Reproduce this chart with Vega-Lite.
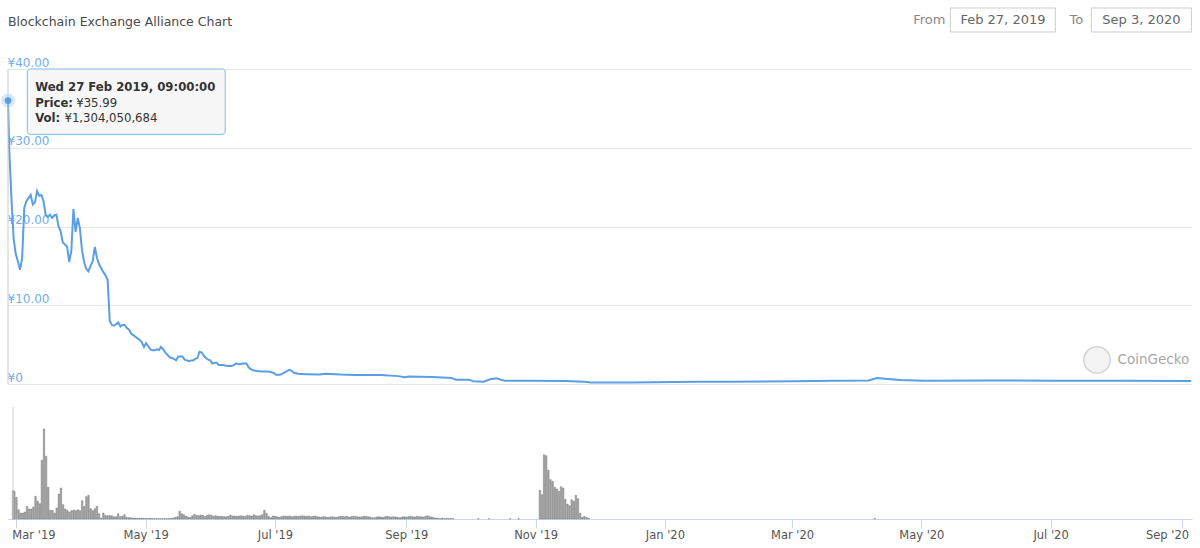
{
  "$schema": "https://vega.github.io/schema/vega-lite/v6.json",
  "padding": {"left": 0, "top": 7, "right": 8, "bottom": 4},
  "background": "white",
  "spacing": 23,
  "bounds": "flush",
  "config": {"font": "DejaVu Sans", "view": {"stroke": null}},
  "datasets": {
    "price": [
      {"date": "2019-02-27T09:00Z", "price": 35.99},
      {"date": "2019-02-28", "price": 29.5},
      {"date": "2019-03-01", "price": 23.5},
      {"date": "2019-03-02", "price": 18.5},
      {"date": "2019-03-03", "price": 16.5},
      {"date": "2019-03-04", "price": 15.6},
      {"date": "2019-03-05", "price": 14.5},
      {"date": "2019-03-06", "price": 16.0},
      {"date": "2019-03-07", "price": 22.4},
      {"date": "2019-03-08", "price": 23.2},
      {"date": "2019-03-09", "price": 23.6},
      {"date": "2019-03-10", "price": 24.0},
      {"date": "2019-03-11", "price": 22.8},
      {"date": "2019-03-12", "price": 23.1},
      {"date": "2019-03-13", "price": 24.5},
      {"date": "2019-03-14", "price": 23.9},
      {"date": "2019-03-15", "price": 24.0},
      {"date": "2019-03-16", "price": 23.2},
      {"date": "2019-03-17", "price": 21.5},
      {"date": "2019-03-18", "price": 21.2},
      {"date": "2019-03-19", "price": 21.5},
      {"date": "2019-03-20", "price": 21.1},
      {"date": "2019-03-21", "price": 21.4},
      {"date": "2019-03-22", "price": 21.5},
      {"date": "2019-03-23", "price": 20.0},
      {"date": "2019-03-24", "price": 19.4},
      {"date": "2019-03-25", "price": 18.0},
      {"date": "2019-03-26", "price": 17.7},
      {"date": "2019-03-27", "price": 17.5},
      {"date": "2019-03-28", "price": 15.5},
      {"date": "2019-03-29", "price": 16.9},
      {"date": "2019-03-30", "price": 22.2},
      {"date": "2019-03-31", "price": 19.3},
      {"date": "2019-04-01", "price": 21.1},
      {"date": "2019-04-02", "price": 19.8},
      {"date": "2019-04-03", "price": 17.0},
      {"date": "2019-04-04", "price": 15.5},
      {"date": "2019-04-05", "price": 14.6},
      {"date": "2019-04-06", "price": 14.3},
      {"date": "2019-04-07", "price": 15.0},
      {"date": "2019-04-08", "price": 15.6},
      {"date": "2019-04-09", "price": 17.4},
      {"date": "2019-04-10", "price": 16.0},
      {"date": "2019-04-11", "price": 15.2},
      {"date": "2019-04-12", "price": 14.7},
      {"date": "2019-04-13", "price": 14.2},
      {"date": "2019-04-14", "price": 13.8},
      {"date": "2019-04-15", "price": 13.2},
      {"date": "2019-04-16", "price": 8.0},
      {"date": "2019-04-17", "price": 7.5},
      {"date": "2019-04-18", "price": 7.4},
      {"date": "2019-04-19", "price": 7.6},
      {"date": "2019-04-20", "price": 7.8},
      {"date": "2019-04-21", "price": 7.3},
      {"date": "2019-04-22", "price": 7.5},
      {"date": "2019-04-23", "price": 7.5},
      {"date": "2019-04-24", "price": 7.1},
      {"date": "2019-04-25", "price": 6.9},
      {"date": "2019-04-26", "price": 6.4},
      {"date": "2019-04-27", "price": 6.2},
      {"date": "2019-04-28", "price": 6.0},
      {"date": "2019-04-29", "price": 5.8},
      {"date": "2019-04-30", "price": 5.6},
      {"date": "2019-05-01", "price": 5.3},
      {"date": "2019-05-02", "price": 4.7},
      {"date": "2019-05-03", "price": 5.2},
      {"date": "2019-05-04", "price": 4.8},
      {"date": "2019-05-05", "price": 4.4},
      {"date": "2019-05-06", "price": 4.3},
      {"date": "2019-05-07", "price": 4.3},
      {"date": "2019-05-08", "price": 4.4},
      {"date": "2019-05-09", "price": 4.3},
      {"date": "2019-05-10", "price": 4.7},
      {"date": "2019-05-11", "price": 4.4},
      {"date": "2019-05-12", "price": 4.0},
      {"date": "2019-05-13", "price": 3.7},
      {"date": "2019-05-14", "price": 3.4},
      {"date": "2019-05-15", "price": 3.3},
      {"date": "2019-05-16", "price": 3.2},
      {"date": "2019-05-17", "price": 3.0},
      {"date": "2019-05-18", "price": 3.5},
      {"date": "2019-05-19", "price": 3.5},
      {"date": "2019-05-20", "price": 3.5},
      {"date": "2019-05-21", "price": 3.1},
      {"date": "2019-05-22", "price": 3.0},
      {"date": "2019-05-23", "price": 2.9},
      {"date": "2019-05-24", "price": 3.0},
      {"date": "2019-05-25", "price": 3.0},
      {"date": "2019-05-26", "price": 3.2},
      {"date": "2019-05-27", "price": 3.3},
      {"date": "2019-05-28", "price": 4.1},
      {"date": "2019-05-29", "price": 4.0},
      {"date": "2019-05-30", "price": 3.6},
      {"date": "2019-05-31", "price": 3.3},
      {"date": "2019-06-01", "price": 3.1},
      {"date": "2019-06-02", "price": 3.0},
      {"date": "2019-06-03", "price": 2.6},
      {"date": "2019-06-04", "price": 2.7},
      {"date": "2019-06-05", "price": 2.7},
      {"date": "2019-06-06", "price": 2.4},
      {"date": "2019-06-07", "price": 2.4},
      {"date": "2019-06-08", "price": 2.4},
      {"date": "2019-06-09", "price": 2.35},
      {"date": "2019-06-10", "price": 2.3},
      {"date": "2019-06-11", "price": 2.3},
      {"date": "2019-06-12", "price": 2.3},
      {"date": "2019-06-13", "price": 2.4},
      {"date": "2019-06-14", "price": 2.6},
      {"date": "2019-06-15", "price": 2.55},
      {"date": "2019-06-16", "price": 2.5},
      {"date": "2019-06-17", "price": 2.6},
      {"date": "2019-06-18", "price": 2.6},
      {"date": "2019-06-19", "price": 2.6},
      {"date": "2019-06-20", "price": 2.1},
      {"date": "2019-06-21", "price": 1.9},
      {"date": "2019-06-22", "price": 1.75},
      {"date": "2019-06-24", "price": 1.65},
      {"date": "2019-06-26", "price": 1.6},
      {"date": "2019-06-28", "price": 1.6},
      {"date": "2019-06-30", "price": 1.55},
      {"date": "2019-07-02", "price": 1.35},
      {"date": "2019-07-03", "price": 1.15},
      {"date": "2019-07-05", "price": 1.2},
      {"date": "2019-07-07", "price": 1.5},
      {"date": "2019-07-09", "price": 1.8},
      {"date": "2019-07-10", "price": 1.7},
      {"date": "2019-07-11", "price": 1.45},
      {"date": "2019-07-13", "price": 1.3},
      {"date": "2019-07-17", "price": 1.25},
      {"date": "2019-07-23", "price": 1.2},
      {"date": "2019-07-26", "price": 1.3},
      {"date": "2019-08-02", "price": 1.2},
      {"date": "2019-08-09", "price": 1.15},
      {"date": "2019-08-15", "price": 1.15},
      {"date": "2019-08-21", "price": 1.14},
      {"date": "2019-08-29", "price": 1.0},
      {"date": "2019-09-01", "price": 0.85},
      {"date": "2019-09-03", "price": 0.95},
      {"date": "2019-09-14", "price": 0.9},
      {"date": "2019-09-23", "price": 0.75},
      {"date": "2019-09-25", "price": 0.55},
      {"date": "2019-10-01", "price": 0.55},
      {"date": "2019-10-03", "price": 0.35},
      {"date": "2019-10-08", "price": 0.3},
      {"date": "2019-10-11", "price": 0.6},
      {"date": "2019-10-14", "price": 0.72},
      {"date": "2019-10-16", "price": 0.55},
      {"date": "2019-10-18", "price": 0.4},
      {"date": "2019-10-30", "price": 0.4},
      {"date": "2019-11-15", "price": 0.38},
      {"date": "2019-11-24", "price": 0.3},
      {"date": "2019-11-27", "price": 0.2},
      {"date": "2019-12-16", "price": 0.2},
      {"date": "2020-01-16", "price": 0.28},
      {"date": "2020-02-01", "price": 0.28},
      {"date": "2020-03-01", "price": 0.35},
      {"date": "2020-03-20", "price": 0.4},
      {"date": "2020-04-05", "price": 0.45},
      {"date": "2020-04-09", "price": 0.75},
      {"date": "2020-04-14", "price": 0.65},
      {"date": "2020-04-20", "price": 0.5},
      {"date": "2020-05-01", "price": 0.42},
      {"date": "2020-06-01", "price": 0.45},
      {"date": "2020-07-01", "price": 0.42},
      {"date": "2020-08-01", "price": 0.4},
      {"date": "2020-09-03", "price": 0.38}
    ],
    "volume": [
      {"date": "2019-02-27T09:00Z", "vol": 1304},
      {"date": "2019-02-28", "vol": 1276}, {"date": "2019-03-01", "vol": 1000}, {"date": "2019-03-02", "vol": 429},
      {"date": "2019-03-03", "vol": 276}, {"date": "2019-03-04", "vol": 276}, {"date": "2019-03-05", "vol": 323},
      {"date": "2019-03-06", "vol": 585}, {"date": "2019-03-07", "vol": 461}, {"date": "2019-03-08", "vol": 461},
      {"date": "2019-03-09", "vol": 553}, {"date": "2019-03-10", "vol": 1046}, {"date": "2019-03-11", "vol": 816},
      {"date": "2019-03-12", "vol": 705}, {"date": "2019-03-13", "vol": 2705}, {"date": "2019-03-14", "vol": 4147},
      {"date": "2019-03-15", "vol": 2889}, {"date": "2019-03-16", "vol": 1461}, {"date": "2019-03-17", "vol": 401},
      {"date": "2019-03-18", "vol": 401}, {"date": "2019-03-19", "vol": 276}, {"date": "2019-03-20", "vol": 507},
      {"date": "2019-03-21", "vol": 1152}, {"date": "2019-03-22", "vol": 1428}, {"date": "2019-03-23", "vol": 659},
      {"date": "2019-03-24", "vol": 461}, {"date": "2019-03-25", "vol": 401}, {"date": "2019-03-26", "vol": 323},
      {"date": "2019-03-27", "vol": 382}, {"date": "2019-03-28", "vol": 415}, {"date": "2019-03-29", "vol": 382},
      {"date": "2019-03-30", "vol": 429}, {"date": "2019-03-31", "vol": 382}, {"date": "2019-04-01", "vol": 843},
      {"date": "2019-04-02", "vol": 585}, {"date": "2019-04-03", "vol": 1028}, {"date": "2019-04-04", "vol": 1092},
      {"date": "2019-04-05", "vol": 475}, {"date": "2019-04-06", "vol": 382}, {"date": "2019-04-07", "vol": 475},
      {"date": "2019-04-08", "vol": 585}, {"date": "2019-04-09", "vol": 244}, {"date": "2019-04-10", "vol": 46},
      {"date": "2019-04-11", "vol": 276}, {"date": "2019-04-12", "vol": 170}, {"date": "2019-04-13", "vol": 152},
      {"date": "2019-04-14", "vol": 152}, {"date": "2019-04-15", "vol": 152}, {"date": "2019-04-16", "vol": 106},
      {"date": "2019-04-17", "vol": 106}, {"date": "2019-04-18", "vol": 244}, {"date": "2019-04-19", "vol": 106},
      {"date": "2019-04-20", "vol": 138}, {"date": "2019-04-21", "vol": 198}, {"date": "2019-04-22", "vol": 78},
      {"date": "2019-04-23", "vol": 60}, {"date": "2019-04-24", "vol": 60}, {"date": "2019-04-25", "vol": 46},
      {"date": "2019-04-26", "vol": 46}, {"date": "2019-04-27", "vol": 32}, {"date": "2019-04-28", "vol": 32},
      {"date": "2019-04-29", "vol": 46}, {"date": "2019-04-30", "vol": 32}, {"date": "2019-05-01", "vol": 23},
      {"date": "2019-05-02", "vol": 23}, {"date": "2019-05-03", "vol": 32}, {"date": "2019-05-04", "vol": 23},
      {"date": "2019-05-05", "vol": 14}, {"date": "2019-05-06", "vol": 14}, {"date": "2019-05-07", "vol": 23},
      {"date": "2019-05-08", "vol": 14}, {"date": "2019-05-09", "vol": 14}, {"date": "2019-05-10", "vol": 23},
      {"date": "2019-05-11", "vol": 14}, {"date": "2019-05-12", "vol": 23}, {"date": "2019-05-13", "vol": 32},
      {"date": "2019-05-14", "vol": 46}, {"date": "2019-05-15", "vol": 78}, {"date": "2019-05-16", "vol": 106},
      {"date": "2019-05-17", "vol": 355}, {"date": "2019-05-18", "vol": 244}, {"date": "2019-05-19", "vol": 198},
      {"date": "2019-05-20", "vol": 138}, {"date": "2019-05-21", "vol": 92}, {"date": "2019-05-22", "vol": 78},
      {"date": "2019-05-23", "vol": 152}, {"date": "2019-05-24", "vol": 217}, {"date": "2019-05-25", "vol": 170},
      {"date": "2019-05-26", "vol": 152}, {"date": "2019-05-27", "vol": 184}, {"date": "2019-05-28", "vol": 170},
      {"date": "2019-05-29", "vol": 124}, {"date": "2019-05-30", "vol": 170}, {"date": "2019-05-31", "vol": 198},
      {"date": "2019-06-01", "vol": 170}, {"date": "2019-06-02", "vol": 124}, {"date": "2019-06-03", "vol": 152},
      {"date": "2019-06-04", "vol": 124}, {"date": "2019-06-05", "vol": 124}, {"date": "2019-06-06", "vol": 124},
      {"date": "2019-06-07", "vol": 106}, {"date": "2019-06-08", "vol": 106}, {"date": "2019-06-09", "vol": 124},
      {"date": "2019-06-10", "vol": 184}, {"date": "2019-06-11", "vol": 138}, {"date": "2019-06-12", "vol": 138},
      {"date": "2019-06-13", "vol": 124}, {"date": "2019-06-14", "vol": 138}, {"date": "2019-06-15", "vol": 152},
      {"date": "2019-06-16", "vol": 138}, {"date": "2019-06-17", "vol": 124}, {"date": "2019-06-18", "vol": 170},
      {"date": "2019-06-19", "vol": 152}, {"date": "2019-06-20", "vol": 138}, {"date": "2019-06-21", "vol": 198},
      {"date": "2019-06-22", "vol": 152}, {"date": "2019-06-23", "vol": 138}, {"date": "2019-06-24", "vol": 152},
      {"date": "2019-06-25", "vol": 198}, {"date": "2019-06-26", "vol": 401}, {"date": "2019-06-27", "vol": 263},
      {"date": "2019-06-28", "vol": 124}, {"date": "2019-06-29", "vol": 60}, {"date": "2019-06-30", "vol": 138},
      {"date": "2019-07-01", "vol": 124}, {"date": "2019-07-02", "vol": 106}, {"date": "2019-07-03", "vol": 78},
      {"date": "2019-07-04", "vol": 106}, {"date": "2019-07-05", "vol": 138}, {"date": "2019-07-06", "vol": 138},
      {"date": "2019-07-07", "vol": 124}, {"date": "2019-07-08", "vol": 138}, {"date": "2019-07-09", "vol": 106},
      {"date": "2019-07-10", "vol": 124}, {"date": "2019-07-11", "vol": 138}, {"date": "2019-07-12", "vol": 124},
      {"date": "2019-07-13", "vol": 138}, {"date": "2019-07-14", "vol": 152}, {"date": "2019-07-15", "vol": 138},
      {"date": "2019-07-16", "vol": 124}, {"date": "2019-07-17", "vol": 138}, {"date": "2019-07-18", "vol": 106},
      {"date": "2019-07-19", "vol": 124}, {"date": "2019-07-20", "vol": 138}, {"date": "2019-07-21", "vol": 106},
      {"date": "2019-07-22", "vol": 92}, {"date": "2019-07-23", "vol": 92}, {"date": "2019-07-24", "vol": 106},
      {"date": "2019-07-25", "vol": 92}, {"date": "2019-07-26", "vol": 78}, {"date": "2019-07-27", "vol": 92},
      {"date": "2019-07-28", "vol": 106}, {"date": "2019-07-29", "vol": 92}, {"date": "2019-07-30", "vol": 78},
      {"date": "2019-07-31", "vol": 106}, {"date": "2019-08-01", "vol": 124}, {"date": "2019-08-02", "vol": 124},
      {"date": "2019-08-03", "vol": 106}, {"date": "2019-08-04", "vol": 124}, {"date": "2019-08-05", "vol": 92},
      {"date": "2019-08-06", "vol": 106}, {"date": "2019-08-07", "vol": 124}, {"date": "2019-08-08", "vol": 124},
      {"date": "2019-08-09", "vol": 106}, {"date": "2019-08-10", "vol": 92}, {"date": "2019-08-11", "vol": 106},
      {"date": "2019-08-12", "vol": 124}, {"date": "2019-08-13", "vol": 124}, {"date": "2019-08-14", "vol": 106},
      {"date": "2019-08-15", "vol": 92}, {"date": "2019-08-16", "vol": 60}, {"date": "2019-08-17", "vol": 60},
      {"date": "2019-08-18", "vol": 92}, {"date": "2019-08-19", "vol": 106}, {"date": "2019-08-20", "vol": 92},
      {"date": "2019-08-21", "vol": 78}, {"date": "2019-08-22", "vol": 106}, {"date": "2019-08-23", "vol": 124},
      {"date": "2019-08-24", "vol": 106}, {"date": "2019-08-25", "vol": 92}, {"date": "2019-08-26", "vol": 106},
      {"date": "2019-08-27", "vol": 92}, {"date": "2019-08-28", "vol": 78}, {"date": "2019-08-29", "vol": 60},
      {"date": "2019-08-30", "vol": 92}, {"date": "2019-08-31", "vol": 106}, {"date": "2019-09-01", "vol": 92},
      {"date": "2019-09-02", "vol": 106}, {"date": "2019-09-03", "vol": 124}, {"date": "2019-09-04", "vol": 106},
      {"date": "2019-09-05", "vol": 92}, {"date": "2019-09-06", "vol": 124}, {"date": "2019-09-07", "vol": 106},
      {"date": "2019-09-08", "vol": 106}, {"date": "2019-09-09", "vol": 92}, {"date": "2019-09-10", "vol": 124},
      {"date": "2019-09-11", "vol": 152}, {"date": "2019-09-12", "vol": 106}, {"date": "2019-09-13", "vol": 92},
      {"date": "2019-09-14", "vol": 60}, {"date": "2019-09-15", "vol": 46}, {"date": "2019-09-16", "vol": 32},
      {"date": "2019-09-17", "vol": 14}, {"date": "2019-09-18", "vol": 46}, {"date": "2019-09-19", "vol": 14},
      {"date": "2019-09-20", "vol": 32}, {"date": "2019-09-21", "vol": 14}, {"date": "2019-09-22", "vol": 23},
      {"date": "2019-09-23", "vol": 14}, {"date": "2019-10-05", "vol": 14}, {"date": "2019-10-10", "vol": 14},
      {"date": "2019-10-20", "vol": 14}, {"date": "2019-10-24", "vol": 14},
      {"date": "2019-11-03", "vol": 1322}, {"date": "2019-11-04", "vol": 1120}, {"date": "2019-11-05", "vol": 2963},
      {"date": "2019-11-06", "vol": 2917}, {"date": "2019-11-07", "vol": 2244}, {"date": "2019-11-08", "vol": 1811},
      {"date": "2019-11-09", "vol": 1737}, {"date": "2019-11-10", "vol": 1461}, {"date": "2019-11-11", "vol": 1382},
      {"date": "2019-11-12", "vol": 1276}, {"date": "2019-11-13", "vol": 1488}, {"date": "2019-11-14", "vol": 1428},
      {"date": "2019-11-15", "vol": 908}, {"date": "2019-11-16", "vol": 691}, {"date": "2019-11-17", "vol": 613},
      {"date": "2019-11-18", "vol": 889}, {"date": "2019-11-19", "vol": 816}, {"date": "2019-11-20", "vol": 1092},
      {"date": "2019-11-21", "vol": 935}, {"date": "2019-11-22", "vol": 263}, {"date": "2019-11-23", "vol": 78},
      {"date": "2019-11-24", "vol": 124}, {"date": "2019-11-25", "vol": 78}, {"date": "2019-11-26", "vol": 32},
      {"date": "2020-04-09", "vol": 23}
    ]
  },
  "vconcat": [
    {
      "width": 1184,
      "height": 315,
      "title": {"text": "Blockchain Exchange Alliance Chart", "anchor": "start", "frame": "group", "offset": -21, "fontSize": 12.5, "fontWeight": "normal", "color": "#4a4a4a"},
      "layer": [
        {
          "data": {"name": "price"},
          "mark": {"type": "line", "color": "#5b9ee4", "strokeWidth": 2},
          "encoding": {
            "x": {
              "field": "date", "type": "temporal",
              "scale": {"type": "utc", "domain": [{"year": 2019, "month": "Feb", "date": 27, "hours": 9, "utc": true}, {"year": 2020, "month": "Sep", "date": 3, "hours": 9, "utc": true}]},
              "axis": null
            },
            "y": {
              "field": "price", "type": "quantitative",
              "scale": {"domain": [0, 40], "nice": false},
              "axis": {
                "values": [0, 10, 20, 30, 40], "domain": false, "ticks": false, "title": null,
                "labelAlign": "left", "labelBaseline": "bottom", "labelPadding": 1,
                "labelColor": "#72aeea", "labelFontSize": 12, "gridColor": "#e6e6e6",
                "labelExpr": "datum.value == 0 ? '¥0' : '¥' + format(datum.value, '.2f')"
              }
            }
          }
        },
        {
          "data": {"values": [{}]},
          "mark": {"type": "rule", "color": "#cccccc", "strokeWidth": 1},
          "encoding": {
            "x": {"datum": {"year": 2019, "month": "Feb", "date": 27, "hours": 9, "utc": true}, "type": "temporal"}
          }
        },
        {
          "data": {"values": [{}]},
          "mark": {"type": "circle", "size": 200, "color": "#7cb5ec", "opacity": 0.3},
          "encoding": {
            "x": {"datum": {"year": 2019, "month": "Feb", "date": 27, "hours": 9, "utc": true}, "type": "temporal"},
            "y": {"datum": 35.99}
          }
        },
        {
          "data": {"values": [{}]},
          "mark": {"type": "circle", "size": 45, "color": "#5b9ee4", "opacity": 1},
          "encoding": {
            "x": {"datum": {"year": 2019, "month": "Feb", "date": 27, "hours": 9, "utc": true}, "type": "temporal"},
            "y": {"datum": 35.99}
          }
        },
        {
          "data": {"values": [{}]},
          "mark": {"type": "rect", "fill": "#f7f7f7", "stroke": "#7cb5ec", "strokeWidth": 1, "cornerRadius": 3, "opacity": 0.95},
          "encoding": {
            "x": {"datum": {"year": 2019, "month": "Mar", "date": 8, "hours": 10, "utc": true}, "type": "temporal"},
            "x2": {"datum": {"year": 2019, "month": "Jun", "date": 9, "hours": 0, "utc": true}},
            "y": {"datum": 40},
            "y2": {"datum": 31.7}
          }
        },
        {
          "data": {"values": [{}]},
          "mark": {"type": "text", "text": "Wed 27 Feb 2019, 09:00:00", "align": "left", "baseline": "middle", "fontSize": 11.7, "fontWeight": "bold", "color": "#333333"},
          "encoding": {
            "x": {"datum": {"year": 2019, "month": "Mar", "date": 12, "hours": 2, "utc": true}, "type": "temporal"},
            "y": {"datum": 37.75}
          }
        },
        {
          "data": {"values": [{}]},
          "mark": {"type": "text", "text": "Price:", "align": "left", "baseline": "middle", "fontSize": 11.7, "fontWeight": "bold", "color": "#333333"},
          "encoding": {
            "x": {"datum": {"year": 2019, "month": "Mar", "date": 12, "hours": 2, "utc": true}, "type": "temporal"},
            "y": {"datum": 35.72}
          }
        },
        {
          "data": {"values": [{}]},
          "mark": {"type": "text", "text": "¥35.99", "align": "left", "baseline": "middle", "fontSize": 11.7, "color": "#333333"},
          "encoding": {
            "x": {"datum": {"year": 2019, "month": "Mar", "date": 31, "hours": 7, "utc": true}, "type": "temporal"},
            "y": {"datum": 35.72}
          }
        },
        {
          "data": {"values": [{}]},
          "mark": {"type": "text", "text": "Vol:", "align": "left", "baseline": "middle", "fontSize": 11.7, "fontWeight": "bold", "color": "#333333"},
          "encoding": {
            "x": {"datum": {"year": 2019, "month": "Mar", "date": 12, "hours": 2, "utc": true}, "type": "temporal"},
            "y": {"datum": 33.74}
          }
        },
        {
          "data": {"values": [{}]},
          "mark": {"type": "text", "text": "¥1,304,050,684", "align": "left", "baseline": "middle", "fontSize": 11.7, "color": "#333333"},
          "encoding": {
            "x": {"datum": {"year": 2019, "month": "Mar", "date": 25, "hours": 19, "utc": true}, "type": "temporal"},
            "y": {"datum": 33.74}
          }
        },
        {
          "data": {"values": [{}]},
          "mark": {"type": "circle", "size": 700, "fill": "#f3f3f3", "stroke": "#d4d4d4", "strokeWidth": 1.5, "opacity": 1},
          "encoding": {
            "x": {"datum": {"year": 2020, "month": "Jul", "date": 20, "hours": 22, "utc": true}, "type": "temporal"},
            "y": {"datum": 3.05}
          }
        },
        {
          "data": {"values": [{}]},
          "mark": {"type": "text", "text": "CoinGecko", "align": "left", "baseline": "middle", "fontSize": 13.5, "color": "#a8a8a8"},
          "encoding": {
            "x": {"datum": {"year": 2020, "month": "Jul", "date": 30, "hours": 12, "utc": true}, "type": "temporal"},
            "y": {"datum": 3.05}
          }
        },
        {
          "data": {"values": [{}]},
          "mark": {"type": "rect", "fill": "white", "stroke": "#cccccc", "strokeWidth": 1},
          "encoding": {
            "x": {"datum": {"year": 2020, "month": "May", "date": 13, "hours": 7, "utc": true}, "type": "temporal"},
            "x2": {"datum": {"year": 2020, "month": "Jul", "date": 1, "hours": 10, "utc": true}},
            "y": {"datum": 47.75},
            "y2": {"datum": 44.7}
          }
        },
        {
          "data": {"values": [{}]},
          "mark": {"type": "rect", "fill": "white", "stroke": "#cccccc", "strokeWidth": 1},
          "encoding": {
            "x": {"datum": {"year": 2020, "month": "Jul", "date": 18, "hours": 7, "utc": true}, "type": "temporal"},
            "x2": {"datum": {"year": 2020, "month": "Sep", "date": 3, "hours": 2, "utc": true}},
            "y": {"datum": 47.75},
            "y2": {"datum": 44.7}
          }
        },
        {
          "data": {"values": [{}]},
          "mark": {"type": "text", "text": "From", "align": "right", "baseline": "middle", "fontSize": 13, "color": "#888888"},
          "encoding": {
            "x": {"datum": {"year": 2020, "month": "May", "date": 11, "hours": 0, "utc": true}, "type": "temporal"},
            "y": {"datum": 46.2}
          }
        },
        {
          "data": {"values": [{}]},
          "mark": {"type": "text", "text": "Feb 27, 2019", "align": "center", "baseline": "middle", "fontSize": 13, "color": "#666666"},
          "encoding": {
            "x": {"datum": {"year": 2020, "month": "Jun", "date": 6, "hours": 22, "utc": true}, "type": "temporal"},
            "y": {"datum": 46.2}
          }
        },
        {
          "data": {"values": [{}]},
          "mark": {"type": "text", "text": "To", "align": "right", "baseline": "middle", "fontSize": 13, "color": "#888888"},
          "encoding": {
            "x": {"datum": {"year": 2020, "month": "Jul", "date": 14, "hours": 12, "utc": true}, "type": "temporal"},
            "y": {"datum": 46.2}
          }
        },
        {
          "data": {"values": [{}]},
          "mark": {"type": "text", "text": "Sep 3, 2020", "align": "center", "baseline": "middle", "fontSize": 13, "color": "#666666"},
          "encoding": {
            "x": {"datum": {"year": 2020, "month": "Aug", "date": 10, "hours": 17, "utc": true}, "type": "temporal"},
            "y": {"datum": 46.2}
          }
        }
      ]
    },
    {
      "width": 1184,
      "height": 112,
      "layer": [
        {
          "data": {"name": "volume"},
          "mark": {"type": "bar", "width": 1.5, "fill": "#a9a9a9", "stroke": "#666666", "strokeWidth": 0.4},
          "encoding": {
            "x": {
              "field": "date", "type": "temporal",
              "scale": {"type": "utc", "domain": [{"year": 2019, "month": "Feb", "date": 27, "hours": 9, "utc": true}, {"year": 2020, "month": "Sep", "date": 3, "hours": 9, "utc": true}]},
              "axis": {
                "tickCount": {"interval": "month", "step": 2},
                "format": "%b '%y",
                "title": null, "grid": false,
                "domainColor": "#ccd6eb", "tickColor": "#ccd6eb", "tickSize": 9,
                "labelColor": "#555555", "labelFontSize": 11.5, "labelPadding": 1, "labelFlush": false,
                "labelOffset": {"condition": [{"test": "datum.index == 0", "value": 17}, {"test": "datum.index == 1", "value": -15}], "value": 0}
              }
            },
            "y": {
              "field": "vol", "type": "quantitative",
              "scale": {"domain": [0, 5161], "nice": false},
              "axis": null
            }
          }
        },
        {
          "data": {"values": [{}]},
          "mark": {"type": "rule", "color": "#cccccc", "strokeWidth": 1},
          "encoding": {
            "x": {"datum": {"year": 2019, "month": "Feb", "date": 27, "hours": 9, "utc": true}, "type": "temporal"}
          }
        }
      ]
    }
  ]
}
